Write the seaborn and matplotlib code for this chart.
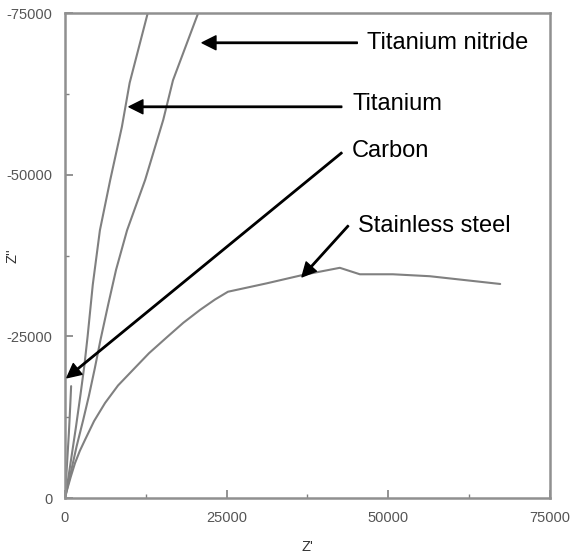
import matplotlib
matplotlib.use('Agg')
import matplotlib.pyplot as plt
import seaborn as sns
from matplotlib.ticker import MultipleLocator

# Dados (Z' e Z'' em ohm)
aco_x = [0, 300, 900, 1550, 2300, 3100, 4500, 6200, 8200, 10500, 13000, 15800, 18300, 20900, 23200, 25200, 31200, 36800, 42500, 45600, 50700, 56400, 67300]
aco_y = [0, -1200, -3300, -5400, -7300, -9000, -11900, -14700, -17400, -19800, -22400, -24900, -27100, -29100, -30700, -31900, -33200, -34500, -35600, -34600, -34600, -34300, -33100]

ti_x = [0, 500, 1100, 1700, 2400, 3000, 3500, 4300, 5400, 7000, 8800, 10000, 12800]
ti_y = [0, -3000, -7000, -11000, -16000, -20500, -25000, -33000, -41400, -49200, -57400, -64200, -75000]

tin_x = [0, 800, 1800, 2800, 3700, 4600, 5500, 6700, 7900, 9600, 12400, 15200, 16700, 20600]
tin_y = [0, -3500, -8000, -12000, -15800, -20000, -24500, -30000, -35300, -41400, -49200, -58500, -64600, -75000]

carbono_x = [0, 300, 600, 800, 950]
carbono_y = [0, -5000, -10000, -14000, -17300]

x_ticks = [0, 25000, 50000, 75000]
y_ticks = [0, -25000, -50000, -75000]

sns.set_style('white')
plt.rcParams['font.family'] = ['Liberation Sans', 'DejaVu Sans']
plt.rcParams['axes.unicode_minus'] = False

fig = plt.figure(figsize=(5.71, 5.57), dpi=100)
ax = fig.add_axes([0.1138, 0.1059, 0.8494, 0.8707])

cor_linha = '#808080'
for xs, ys in [(aco_x, aco_y), (ti_x, ti_y), (tin_x, tin_y), (carbono_x, carbono_y)]:
    sns.lineplot(x=xs, y=ys, sort=False, estimator=None, color=cor_linha, linewidth=1.5, ax=ax)

ax.set_xlim(0, 75000)
ax.set_ylim(0, -75000)
ax.set_xticks(x_ticks)
ax.set_yticks(y_ticks)
ax.xaxis.set_minor_locator(MultipleLocator(12500))
ax.yaxis.set_minor_locator(MultipleLocator(12500))
ax.tick_params(which='major', direction='in', length=6, width=1.2, color='#808080',
               labelsize=10.5, labelcolor='#555555', pad=9, bottom=True, left=True)
ax.tick_params(which='minor', direction='in', length=3, width=1.0, color='#808080',
               bottom=True, left=True)
for s in ax.spines.values():
    s.set_color('#909090')
    s.set_linewidth(1.8)

ax.set_xlabel("Z'", fontsize=10.5, color='#333333')
ax.set_ylabel("Z''", fontsize=10.5, color='#333333')
ax.xaxis.set_label_coords(0.5, -0.086)
ax.yaxis.set_label_coords(-0.093, 0.5)

# Setas e rótulos
seta = dict(facecolor='black', edgecolor='black', width=1.0, headwidth=10, headlength=10, shrink=0)
rotulos = [
    ('Titanium nitride', (21200, -70400), (45200, -70400), (46700, -70400)),
    ('Titanium', (9900, -60500), (42800, -60500), (44400, -60900)),
    ('Carbon', (300, -18600), (42800, -53400), (44400, -53700)),
    ('Stainless steel', (36650, -34200), (43800, -42100), (45300, -42100)),
]
for texto, ponta, inicio, pos in rotulos:
    ax.annotate('', xy=ponta, xytext=inicio, arrowprops=seta)
    ax.text(pos[0], pos[1], texto, fontsize=17, va='center', ha='left', color='black')

fig.savefig('out.png', dpi=100)
